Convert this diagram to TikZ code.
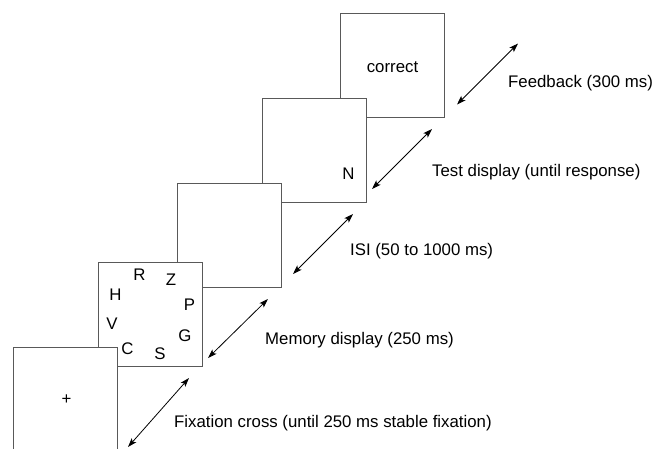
\documentclass[tikz,border=0pt]{standalone}
\usepackage{fontspec}
\setmainfont{Liberation Sans}
\usetikzlibrary{arrows.meta}
\begin{document}
\begin{tikzpicture}[x=1pt,y=-1pt,
  screen/.style={draw=black!65, fill=white, line width=0.9pt,
    minimum width=104pt, minimum height=104pt, inner sep=0pt, outer sep=0pt},
  stim/.style={font=\fontsize{16.8}{20}\selectfont, inner sep=0pt},
  phase/.style={font=\fontsize{16.8}{20}\selectfont, anchor=west, inner sep=0pt},
  interval/.style={{Stealth[length=9pt,width=6pt,inset=2pt]}-{Stealth[length=9pt,width=6pt,inset=2pt]},
    line width=0.8pt}]
\useasboundingbox (0,0) rectangle (657,448);
\clip (0,0) rectangle (657,448);

% screens, drawn from the last one back to the first so earlier ones lie on top
\node[screen] (feedback) at (392.5,65) {};
\node[screen] (test)     at (314,150.5) {};
\node[screen] (isi)      at (229,235.5) {};
\node[screen] (memory)   at (150,314) {};
\node[screen] (fixation) at (65,399) {};

% screen contents
\node[stim] (cross) at (66.5,400) {+};
\node[stim] (lR) at (139.5,275) {R};
\node[stim] (lZ) at (171,280) {Z};
\node[stim] (lH) at (115.5,295) {H};
\node[stim] (lP) at (189.5,304.5) {P};
\node[stim] (lV) at (112,324) {V};
\node[stim] (lG) at (185,336) {G};
\node[stim] (lC) at (127.5,348.5) {C};
\node[stim] (lS) at (160,354) {S};
\node[stim] (probe) at (348.5,174) {N};
\node[stim] (fb) at (392.5,67) {correct};

% duration arrows
\coordinate (a1) at (128,447); \coordinate (b1) at (189,378);
\coordinate (a2) at (208,358); \coordinate (b2) at (268,299);
\coordinate (a3) at (293,274); \coordinate (b3) at (353,214);
\coordinate (a4) at (372,189); \coordinate (b4) at (432,129);
\coordinate (a5) at (457,104.5); \coordinate (b5) at (518,43.5);
\draw[interval] (a1) -- (b1);
\draw[interval] (a2) -- (b2);
\draw[interval] (a3) -- (b3);
\draw[interval] (a4) -- (b4);
\draw[interval] (a5) -- (b5);

% phase labels
\node[phase] (t5) at (508,83) {Feedback (300 ms)};
\node[phase] (t4) at (432,172) {Test display (until response)};
\node[phase] (t3) at (350,251) {ISI (50 to 1000 ms)};
\node[phase] (t2) at (265,340) {Memory display (250 ms)};
\node[phase] (t1) at (174,423) {Fixation cross (until 250 ms stable fixation)};
\end{tikzpicture}
\end{document}
